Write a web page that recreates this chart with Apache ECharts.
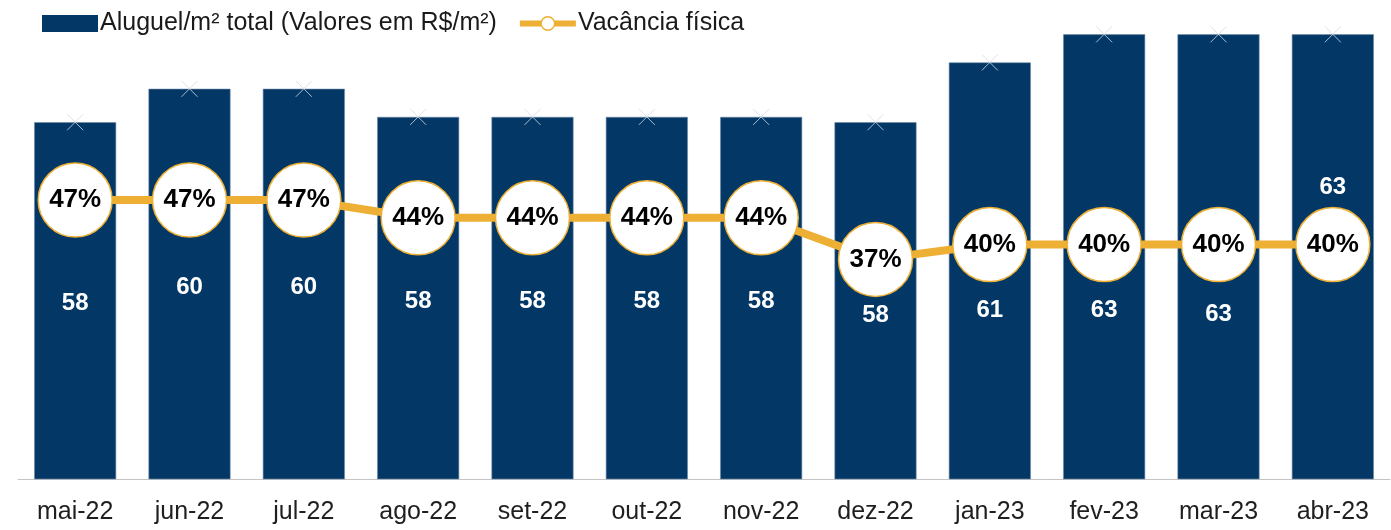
<!DOCTYPE html>
<html>
<head>
<meta charset="utf-8">
<script src="https://cdn.jsdelivr.net/npm/echarts@6/dist/echarts.min.js"></script>
<style>
  html, body { margin: 0; padding: 0; background: #fff; }
  #chart { width: 1391px; height: 530px; }
</style>
</head>
<body>
<div id="chart"></div>
<script>
const categories = ['mai-22', 'jun-22', 'jul-22', 'ago-22', 'set-22', 'out-22', 'nov-22', 'dez-22', 'jan-23', 'fev-23', 'mar-23', 'abr-23'];
const aluguel = [58.0, 59.9, 59.9, 58.3, 58.3, 58.3, 58.3, 58.0, 61.4, 63.0, 63.0, 63.0];
const vacancia = [47, 47, 47, 44, 44, 44, 44, 37, 39.5, 39.5, 39.5, 39.5];

const navy = '#033866';
const gold = '#EDB034';
const font = '"Liberation Sans", Arial, sans-serif';

// labels that were moved by hand in the original to dodge the circles
const labelShift = { 'dez-22': 15, 'jan-23': 40, 'fev-23': 54, 'mar-23': 58, 'abr-23': -69 };

const chart = echarts.init(document.getElementById('chart'));

chart.setOption({
  animation: false,
  textStyle: { fontFamily: font },
  legend: {
    left: 42,
    top: 11,
    padding: 0,
    itemGap: 20,
    itemWidth: 56,
    itemHeight: 17,
    textStyle: { fontSize: 25, color: '#1a1a1a', fontFamily: font, padding: [0, 0, 0, -3] },
    data: [
      {
        name: 'Aluguel/m² total (Valores em R$/m²)',
        icon: 'rect',
        itemStyle: { color: navy, borderWidth: 0 }
      },
      {
        name: 'Vacância física',
        lineStyle: { color: gold, width: 6 },
        itemStyle: { color: '#fff', borderColor: gold, borderWidth: 1.5 }
      }
    ]
  },
  grid: { left: 18, right: 1, top: 22, bottom: 51 },
  xAxis: {
    type: 'category',
    data: categories,
    axisLine: { lineStyle: { color: '#c4c4c4', width: 1 } },
    axisTick: { show: false },
    axisLabel: { fontSize: 25, color: '#1f1f1f', margin: 21, fontFamily: font }
  },
  yAxis: [
    { type: 'value', min: 37.7, max: 63.7, show: false, splitLine: { show: false } },
    { type: 'value', min: 0, max: 77, show: false, splitLine: { show: false } }
  ],
  series: [
    {
      name: 'Aluguel/m² total (Valores em R$/m²)',
      type: 'bar',
      barWidth: 82,
      itemStyle: { color: navy, borderColor: '#6f8aa8', borderWidth: 0.6 },
      label: {
        show: true,
        position: 'inside',
        offset: [0, 3],
        color: '#fff',
        fontWeight: 'bold',
        fontSize: 24,
        fontFamily: font,
        formatter: p => Math.round(p.value)
      },
      data: aluguel.map((v, i) => {
        const dy = labelShift[categories[i]];
        return dy ? { value: v, label: { offset: [0, dy] } } : v;
      }),
      z: 1
    },
    {
      name: 'marker',
      type: 'scatter',
      symbol: 'path://M0,0L10,10M10,0L0,10',
      symbolSize: 16,
      itemStyle: { color: 'rgba(0,0,0,0)', borderColor: '#d3dbe4', borderWidth: 1 },
      silent: true,
      data: aluguel,
      z: 2
    },
    {
      name: 'Vacância física',
      type: 'line',
      yAxisIndex: 1,
      symbol: 'circle',
      symbolSize: 74,
      lineStyle: { color: gold, width: 8 },
      itemStyle: { color: '#fff', borderColor: gold, borderWidth: 1.5 },
      label: {
        show: true,
        position: 'inside',
        color: '#000',
        fontWeight: 'bold',
        fontSize: 26,
        fontFamily: font,
        formatter: p => Math.round(p.value) + '%'
      },
      data: vacancia,
      z: 3
    }
  ]
});
</script>
</body>
</html>
